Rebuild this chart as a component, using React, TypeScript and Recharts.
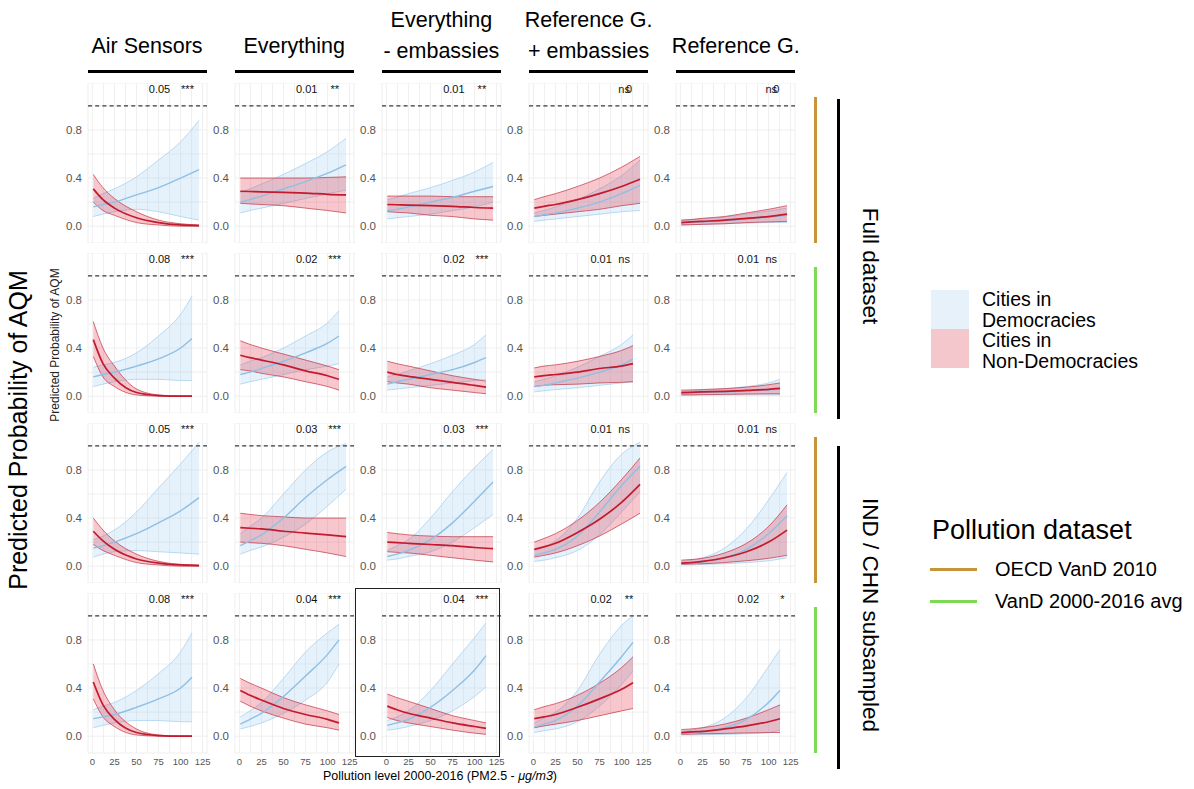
import React from "react";
import { ComposedChart, Area, Line, XAxis, YAxis, CartesianGrid, ReferenceLine } from "recharts";

// x positions of the predicted points (OECD data stops later than the 2000-2016 avg)
const X_OECD = [1, 12, 25, 50, 75, 100, 121];
const X_AVG = [1, 12, 25, 50, 75, 100, 113];

const X_TICKS = [0, 12.5, 25, 37.5, 50, 62.5, 75, 87.5, 100, 112.5, 125];
const Y_TICKS = [0, 0.2, 0.4, 0.6, 0.8, 1.0];
const X_LABELED = [0, 25, 50, 75, 100, 125];
const Y_LABELED = [0, 0.4, 0.8];

const COLUMNS = ["Air Sensors", "Everything", "Everything\n- embassies", "Reference G.\n+ embassies", "Reference G."];
const ROW_DATASET = ["oecd", "avg", "oecd", "avg"];

// panels listed row by row (row 1: full/OECD, row 2: full/avg, row 3: IND-CHN/OECD, row 4: IND-CHN/avg)
const BLUE_LO = [
  [0.08, 0.1, 0.12, 0.14, 0.12, 0.08, 0.05],
  [0.11, 0.13, 0.15, 0.19, 0.23, 0.27, 0.3],
  [0.06, 0.07, 0.08, 0.1, 0.13, 0.16, 0.2],
  [0.04, 0.05, 0.06, 0.08, 0.1, 0.12, 0.13],
  [0.01, 0.012, 0.015, 0.02, 0.025, 0.03, 0.03],
  [0.08, 0.1, 0.12, 0.14, 0.14, 0.13, 0.13],
  [0.1, 0.12, 0.14, 0.18, 0.22, 0.25, 0.27],
  [0.05, 0.06, 0.07, 0.09, 0.11, 0.13, 0.14],
  [0.035, 0.045, 0.055, 0.07, 0.09, 0.11, 0.12],
  [0.01, 0.01, 0.01, 0.01, 0.01, 0.01, 0.01],
  [0.075, 0.1, 0.12, 0.13, 0.12, 0.11, 0.1],
  [0.1, 0.13, 0.16, 0.24, 0.35, 0.5, 0.64],
  [0.05, 0.06, 0.08, 0.12, 0.2, 0.32, 0.43],
  [0.04, 0.05, 0.07, 0.13, 0.26, 0.45, 0.62],
  [0.01, 0.01, 0.015, 0.02, 0.03, 0.045, 0.07],
  [0.07, 0.09, 0.11, 0.13, 0.13, 0.12, 0.12],
  [0.06, 0.08, 0.11, 0.19, 0.3, 0.45, 0.6],
  [0.05, 0.06, 0.08, 0.13, 0.21, 0.33, 0.41],
  [0.03, 0.045, 0.06, 0.12, 0.25, 0.43, 0.54],
  [0.01, 0.01, 0.012, 0.015, 0.02, 0.03, 0.05],
];
const BLUE_MID = [
  [0.16, 0.18, 0.2, 0.26, 0.32, 0.4, 0.47],
  [0.2, 0.22, 0.25, 0.31, 0.37, 0.44, 0.51],
  [0.13, 0.14, 0.16, 0.2, 0.24, 0.29, 0.33],
  [0.08, 0.095, 0.11, 0.15, 0.2, 0.27, 0.34],
  [0.03, 0.033, 0.037, 0.045, 0.06, 0.075, 0.09],
  [0.16, 0.18, 0.2, 0.25, 0.31, 0.4, 0.48],
  [0.18, 0.2, 0.23, 0.29, 0.36, 0.44, 0.5],
  [0.1, 0.12, 0.14, 0.18, 0.22, 0.28, 0.32],
  [0.08, 0.09, 0.11, 0.15, 0.2, 0.26, 0.31],
  [0.025, 0.027, 0.03, 0.035, 0.043, 0.053, 0.06],
  [0.15, 0.17, 0.2, 0.27, 0.36, 0.46, 0.57],
  [0.17, 0.21, 0.26, 0.4, 0.57, 0.72, 0.83],
  [0.08, 0.1, 0.13, 0.22, 0.36, 0.54, 0.7],
  [0.09, 0.11, 0.14, 0.25, 0.45, 0.67, 0.83],
  [0.02, 0.025, 0.035, 0.07, 0.14, 0.27, 0.42],
  [0.145, 0.16, 0.18, 0.24, 0.31, 0.4, 0.49],
  [0.1, 0.14, 0.19, 0.33, 0.5, 0.68, 0.8],
  [0.09, 0.11, 0.14, 0.24, 0.38, 0.55, 0.67],
  [0.075, 0.1, 0.13, 0.25, 0.45, 0.66, 0.78],
  [0.02, 0.025, 0.035, 0.07, 0.14, 0.28, 0.38],
];
const BLUE_HI = [
  [0.23, 0.27, 0.31, 0.41, 0.55, 0.7, 0.88],
  [0.28, 0.31, 0.35, 0.43, 0.52, 0.62, 0.73],
  [0.22, 0.24, 0.27, 0.32, 0.38, 0.45, 0.53],
  [0.11, 0.13, 0.16, 0.22, 0.31, 0.42, 0.55],
  [0.05, 0.055, 0.06, 0.075, 0.1, 0.125, 0.15],
  [0.24, 0.26, 0.28, 0.36, 0.5, 0.68, 0.83],
  [0.26, 0.29, 0.32, 0.4, 0.5, 0.61, 0.71],
  [0.16, 0.18, 0.21, 0.27, 0.34, 0.43, 0.51],
  [0.12, 0.14, 0.17, 0.24, 0.33, 0.43, 0.51],
  [0.04, 0.043, 0.048, 0.06, 0.08, 0.11, 0.14],
  [0.22, 0.25, 0.3, 0.45, 0.65, 0.85, 1.03],
  [0.27, 0.33, 0.4, 0.6, 0.8, 0.95, 1.02],
  [0.13, 0.17, 0.22, 0.4, 0.62, 0.82, 0.97],
  [0.13, 0.16, 0.21, 0.4, 0.7, 0.93, 1.03],
  [0.04, 0.05, 0.07, 0.15, 0.31, 0.55, 0.78],
  [0.22, 0.25, 0.28, 0.38, 0.52, 0.7, 0.86],
  [0.16, 0.21, 0.28, 0.48, 0.7, 0.86, 0.93],
  [0.13, 0.16, 0.21, 0.38, 0.6, 0.82, 0.94],
  [0.11, 0.15, 0.2, 0.38, 0.68, 0.92, 1.0],
  [0.04, 0.05, 0.07, 0.15, 0.32, 0.58, 0.72],
];
const RED_LO = [
  [0.2, 0.13, 0.09, 0.03, 0.01, 0.0, 0.0],
  [0.19, 0.185, 0.18, 0.17, 0.15, 0.13, 0.11],
  [0.12, 0.115, 0.11, 0.09, 0.08, 0.06, 0.05],
  [0.08, 0.09, 0.1, 0.12, 0.14, 0.17, 0.19],
  [0.01, 0.012, 0.015, 0.02, 0.03, 0.035, 0.04],
  [0.33, 0.16, 0.08, 0.01, 0.0, 0.0, 0.0],
  [0.22, 0.21, 0.19, 0.16, 0.12, 0.08, 0.05],
  [0.12, 0.11, 0.1, 0.07, 0.05, 0.03, 0.02],
  [0.08, 0.09, 0.095, 0.1, 0.11, 0.115, 0.12],
  [0.01, 0.01, 0.012, 0.015, 0.018, 0.02, 0.02],
  [0.18, 0.13, 0.09, 0.03, 0.01, 0.0, 0.0],
  [0.2, 0.195, 0.19, 0.17, 0.14, 0.11, 0.08],
  [0.12, 0.115, 0.11, 0.09, 0.07, 0.05, 0.035],
  [0.075, 0.09, 0.11, 0.17, 0.25, 0.35, 0.44],
  [0.015, 0.018, 0.02, 0.03, 0.045, 0.065, 0.09],
  [0.31, 0.16, 0.08, 0.01, 0.0, 0.0, 0.0],
  [0.29, 0.25, 0.21, 0.15, 0.1, 0.07, 0.05],
  [0.155, 0.13, 0.11, 0.08, 0.05, 0.025, 0.015],
  [0.07, 0.085, 0.1, 0.13, 0.17, 0.21, 0.23],
  [0.015, 0.017, 0.02, 0.023, 0.027, 0.03, 0.03],
];
const RED_MID = [
  [0.31, 0.22, 0.15, 0.07, 0.03, 0.01, 0.005],
  [0.29, 0.288, 0.285, 0.28, 0.275, 0.265, 0.26],
  [0.18, 0.178, 0.175, 0.17, 0.165, 0.155, 0.15],
  [0.15, 0.165, 0.18, 0.22, 0.27, 0.33, 0.39],
  [0.03, 0.035, 0.04, 0.05, 0.065, 0.08, 0.1],
  [0.47, 0.27, 0.15, 0.03, 0.005, 0.0, 0.0],
  [0.34, 0.32, 0.3, 0.26, 0.21, 0.17, 0.14],
  [0.2, 0.18, 0.165, 0.14, 0.115, 0.09, 0.075],
  [0.16, 0.17, 0.18, 0.2, 0.23, 0.25, 0.27],
  [0.03, 0.032, 0.035, 0.04, 0.048, 0.057, 0.065],
  [0.29, 0.21, 0.14, 0.06, 0.025, 0.01, 0.005],
  [0.32, 0.315, 0.31, 0.29, 0.275, 0.26, 0.245],
  [0.2, 0.195, 0.19, 0.18, 0.17, 0.155, 0.145],
  [0.14, 0.16, 0.19, 0.28, 0.39, 0.53, 0.68],
  [0.025, 0.03, 0.04, 0.07, 0.12, 0.2, 0.3],
  [0.45, 0.26, 0.14, 0.03, 0.005, 0.0, 0.0],
  [0.38, 0.34, 0.3, 0.23, 0.18, 0.14, 0.11],
  [0.25, 0.22, 0.19, 0.15, 0.11, 0.08, 0.065],
  [0.145, 0.16, 0.18, 0.24, 0.31, 0.39, 0.445],
  [0.03, 0.035, 0.04, 0.06, 0.085, 0.12, 0.145],
];
const RED_HI = [
  [0.43, 0.32, 0.23, 0.12, 0.05, 0.02, 0.01],
  [0.4, 0.4, 0.4, 0.4, 0.4, 0.405, 0.41],
  [0.25, 0.25, 0.25, 0.25, 0.245, 0.245, 0.245],
  [0.22, 0.245, 0.27, 0.33, 0.4, 0.49, 0.58],
  [0.05, 0.055, 0.065, 0.08, 0.11, 0.14, 0.17],
  [0.62, 0.4, 0.25, 0.06, 0.01, 0.0, 0.0],
  [0.46, 0.43, 0.4, 0.35, 0.3, 0.25, 0.22],
  [0.29, 0.27, 0.25, 0.21, 0.17, 0.14, 0.125],
  [0.235, 0.25, 0.26, 0.29, 0.33, 0.38, 0.42],
  [0.05, 0.052, 0.055, 0.063, 0.075, 0.095, 0.11],
  [0.4, 0.3, 0.21, 0.1, 0.04, 0.015, 0.01],
  [0.44, 0.43, 0.42, 0.41, 0.4, 0.4, 0.4],
  [0.28, 0.27, 0.26, 0.25, 0.245, 0.245, 0.245],
  [0.2, 0.23, 0.27, 0.38, 0.53, 0.72, 0.9],
  [0.05, 0.055, 0.065, 0.11, 0.19, 0.33, 0.51],
  [0.6, 0.38, 0.22, 0.06, 0.01, 0.0, 0.0],
  [0.48, 0.44, 0.4, 0.32, 0.26, 0.21, 0.18],
  [0.35, 0.32, 0.29, 0.23, 0.17, 0.13, 0.11],
  [0.22, 0.245, 0.27, 0.34, 0.44, 0.57, 0.66],
  [0.055, 0.06, 0.07, 0.1, 0.15, 0.22, 0.26],
];

const EFFECT = [
  "0.05", "0.01", "0.01", "0", "0",
  "0.08", "0.02", "0.02", "0.01", "0.01",
  "0.05", "0.03", "0.03", "0.01", "0.01",
  "0.08", "0.04", "0.04", "0.02", "0.02",
];
const STARS = [
  "***", "**", "**", "ns", "ns",
  "***", "***", "***", "ns", "ns",
  "***", "***", "***", "ns", "ns",
  "***", "***", "***", "**", "*",
];

const FONT = '"Liberation Sans", Arial, Helvetica, sans-serif';
const YW = 31; // y axis width
const PW = 119; // plot width
const PH = 160; // plot height
const XH = 22; // x axis height (bottom row)
const RM = 10; // room on the right for the last tick label
const colLeft = (c: number) => 87.5 + 147.2 * c;
const rowTop = (r: number) => 82.5 + 170 * r;

const OECD_COLOR = "#c8943a";
const AVG_COLOR = "#7ed957";

function Panel({ idx }: { idx: number }) {
  const r = Math.floor(idx / 5);
  const c = idx % 5;
  const xs = ROW_DATASET[r] === "oecd" ? X_OECD : X_AVG;
  const data = xs.map((x, i) => ({
    x,
    blue: [BLUE_LO[idx][i], BLUE_HI[idx][i]],
    blueMid: BLUE_MID[idx][i],
    red: [RED_LO[idx][i], RED_HI[idx][i]],
    redMid: RED_MID[idx][i],
  }));
  const bottom = r === 3;
  const left = colLeft(c);
  const top = rowTop(r);
  const eff = EFFECT[idx];
  const overlap = eff === "0";
  return (
    <>
      <div style={{ position: "absolute", left: left - YW, top }}>
        <ComposedChart
          width={YW + PW + RM}
          height={PH + (bottom ? XH : 0)}
          data={data}
          margin={{ top: 0, right: RM, bottom: 0, left: 0 }}
        >
          <CartesianGrid stroke="#ebebeb" strokeWidth={0.8} />
          <XAxis
            type="number"
            dataKey="x"
            domain={[-5, 130]}
            ticks={X_TICKS}
            hide={!bottom}
            height={XH}
            interval={0}
            axisLine={false}
            tickLine={false}
            tickSize={4}
            tickMargin={1}
            tick={{ fill: "#555", fontSize: 9.5 }}
            tickFormatter={(v: number) => (X_LABELED.includes(v) ? String(v) : "")}
          />
          <YAxis
            type="number"
            domain={[-0.14, 1.19]}
            ticks={Y_TICKS}
            width={YW}
            interval={0}
            axisLine={false}
            tickLine={false}
            tickSize={4}
            tickMargin={2}
            tick={{ fill: "#555", fontSize: 11.5 }}
            tickFormatter={(v: number) => (Y_LABELED.some((l) => Math.abs(l - v) < 1e-9) ? v.toFixed(1) : "")}
          />
          <ReferenceLine y={1} stroke="#3a3a3a" strokeWidth={1.1} strokeDasharray="4 3.2" />
          <Area
            dataKey="blue"
            type="monotone"
            fill="#a0cdf0"
            fillOpacity={0.27}
            stroke="#a9d2ef"
            strokeWidth={0.8}
            isAnimationActive={false}
          />
          <Line dataKey="blueMid" type="monotone" stroke="#8fc0e4" strokeWidth={1.4} dot={false} isAnimationActive={false} />
          <Area
            dataKey="red"
            type="monotone"
            fill="#e1283c"
            fillOpacity={0.26}
            stroke="#c23140"
            strokeWidth={0.7}
            isAnimationActive={false}
          />
          <Line dataKey="redMid" type="monotone" stroke="#c21a2e" strokeWidth={1.7} dot={false} isAnimationActive={false} />
        </ComposedChart>
      </div>
      <div
        style={{
          position: "absolute",
          left: left + (overlap ? 100 : 72),
          top: top,
          transform: "translateX(-50%)",
          fontSize: 11,
          lineHeight: "12px",
          color: "#111",
        }}
      >
        {eff}
      </div>
      <div
        style={{
          position: "absolute",
          left: left + (STARS[idx] === "*" ? 106 : STARS[idx] === "ns" ? 95 : 100),
          top: top,
          transform: "translateX(-50%)",
          fontSize: 11,
          lineHeight: "12px",
          color: "#111",
        }}
      >
        {STARS[idx]}
      </div>
    </>
  );
}

export default function App() {
  const abs = (s: React.CSSProperties): React.CSSProperties => ({ position: "absolute", ...s });
  return (
    <div style={{ position: "absolute", left: 0, top: 0, width: 1194, height: 789, background: "#fff", fontFamily: FONT, overflow: "hidden" }}>
      {/* column strips */}
      {COLUMNS.map((name, c) => (
        <React.Fragment key={name}>
          <div
            style={abs({
              left: colLeft(c) - 20,
              width: PW + 40,
              top: name.includes("\n") ? 5 : 31,
              textAlign: "center",
              fontSize: 21.5,
              lineHeight: "31px",
              whiteSpace: "pre",
              color: "#000",
            })}
          >
            {name}
          </div>
          <div style={abs({ left: colLeft(c), width: PW, top: 69.5, height: 3.5, background: "#000" })} />
        </React.Fragment>
      ))}

      {Array.from({ length: 20 }, (_, i) => (
        <Panel key={i} idx={i} />
      ))}

      {/* highlighted panel */}
      <div style={abs({ left: 355, top: 588, width: 143, height: 167, border: "1.8px solid #222" })} />

      {/* axis titles */}
      <div style={abs({ left: 18, top: 430, transform: "translate(-50%, -50%) rotate(-90deg)", fontSize: 25, whiteSpace: "nowrap" })}>
        Predicted Probability of AQM
      </div>
      <div style={abs({ left: 55, top: 345, transform: "translate(-50%, -50%) rotate(-90deg)", fontSize: 12, whiteSpace: "nowrap", color: "#222" })}>
        Predicted Probability of AQM
      </div>
      <div style={abs({ left: 440, top: 776, transform: "translate(-50%, -50%)", fontSize: 12.5, whiteSpace: "nowrap" })}>
        Pollution level 2000-2016 (PM2.5 - <i>μg/m3</i>)
      </div>

      {/* dataset strips */}
      {ROW_DATASET.map((d, r) => (
        <div
          key={r}
          style={abs({
            left: 814,
            width: 3,
            top: rowTop(r) + 14,
            height: 146,
            background: d === "oecd" ? OECD_COLOR : AVG_COLOR,
          })}
        />
      ))}
      <div style={abs({ left: 837, width: 3, top: 99, height: 320, background: "#000" })} />
      <div style={abs({ left: 837, width: 3, top: 446, height: 323, background: "#000" })} />
      <div style={abs({ left: 870, top: 266, transform: "translate(-50%, -50%) rotate(90deg)", fontSize: 22.5, whiteSpace: "nowrap" })}>
        Full dataset
      </div>
      <div style={abs({ left: 870, top: 615, transform: "translate(-50%, -50%) rotate(90deg)", fontSize: 22.5, whiteSpace: "nowrap" })}>
        IND / CHN subsampled
      </div>

      {/* fill legend */}
      <div style={abs({ left: 931, top: 290, width: 38, height: 39, background: "#e7f1fa" })} />
      <div style={abs({ left: 931, top: 329, width: 38, height: 39, background: "#f3c7cc" })} />
      <div style={abs({ left: 982, top: 289, fontSize: 19.5, lineHeight: "20.5px" })}>
        Cities in
        <br />
        Democracies
        <br />
        Cities in
        <br />
        Non-Democracies
      </div>

      {/* line legend */}
      <div style={abs({ left: 932, top: 514, fontSize: 27, lineHeight: "32px" })}>Pollution dataset</div>
      <div style={abs({ left: 930, top: 567.5, width: 47, height: 3, background: OECD_COLOR })} />
      <div style={abs({ left: 930, top: 599.5, width: 47, height: 3, background: AVG_COLOR })} />
      <div style={abs({ left: 995, top: 557, fontSize: 20, lineHeight: "24px" })}>OECD VanD 2010</div>
      <div style={abs({ left: 995, top: 589, fontSize: 20, lineHeight: "24px" })}>VanD 2000-2016 avg</div>
    </div>
  );
}
